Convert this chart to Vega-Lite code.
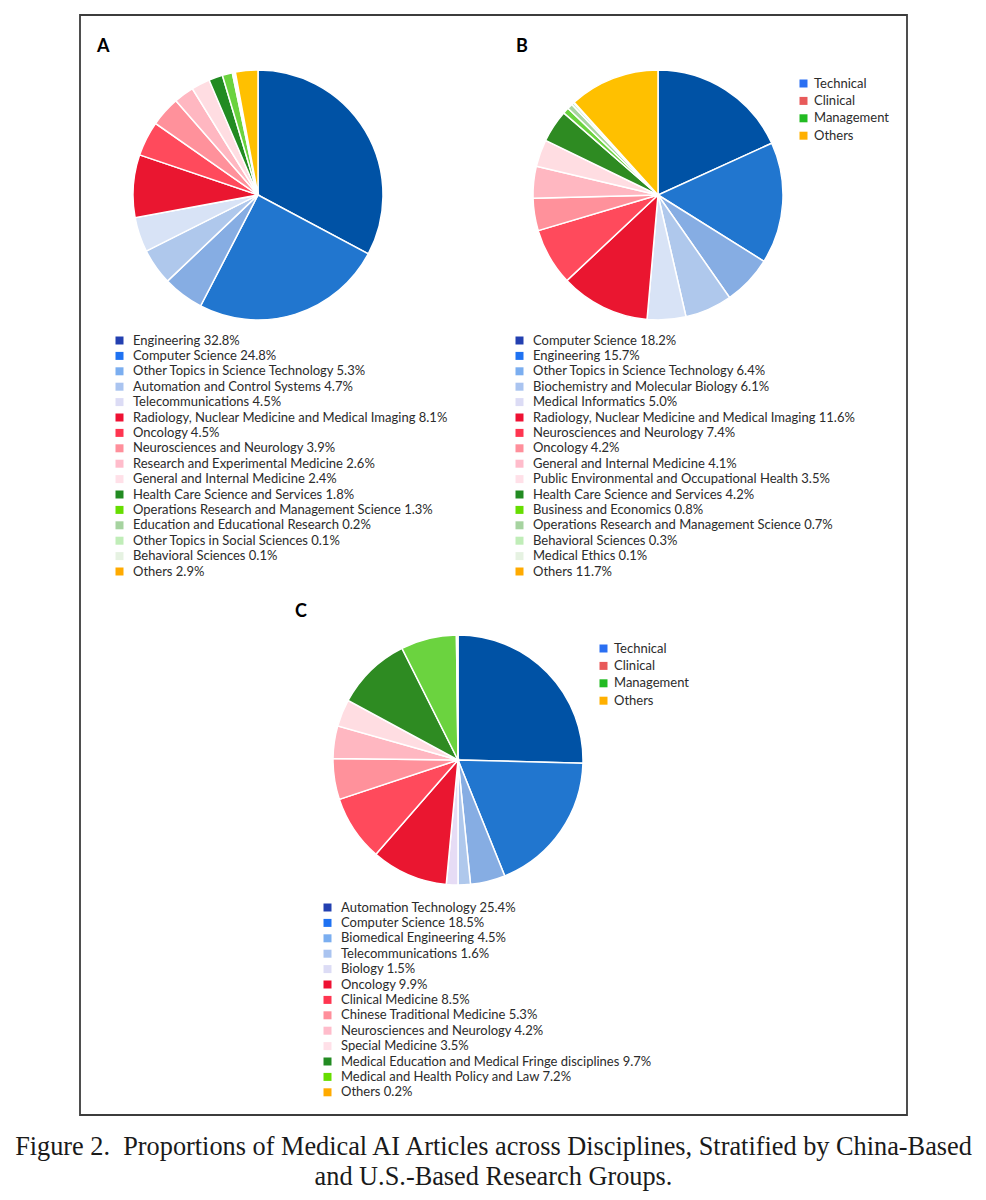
{
  "$schema": "https://vega.github.io/schema/vega-lite/v6.json",
  "background": "white",
  "padding": {"left": 13, "top": 15, "right": 5, "bottom": 5},
  "width": 827,
  "height": 1100,
  "config": {"view": {"stroke": "#3c3c3c", "strokeWidth": 1.8}, "font": "Lato"},
  "title": {
    "text": ["Figure 2.\u00a0 Proportions of Medical AI Articles across Disciplines, Stratified by China-Based", "and U.S.-Based Research Groups."],
    "orient": "bottom", "anchor": "middle", "frame": "group",
    "font": "Liberation Serif", "fontSize": 26.3, "fontWeight": "normal", "lineHeight": 30, "offset": 19, "color": "#1a1a1a"
  },
  "resolve": {"scale": {"color": "independent"}},
  "layer": [
    {
      "data": {"values": [
        {"discipline": "Engineering", "percent": 32.8},
        {"discipline": "Computer Science", "percent": 24.8},
        {"discipline": "Other Topics in Science Technology", "percent": 5.3},
        {"discipline": "Automation and Control Systems", "percent": 4.7},
        {"discipline": "Telecommunications", "percent": 4.5},
        {"discipline": "Radiology, Nuclear Medicine and Medical Imaging", "percent": 8.1},
        {"discipline": "Oncology", "percent": 4.5},
        {"discipline": "Neurosciences and Neurology", "percent": 3.9},
        {"discipline": "Research and Experimental Medicine", "percent": 2.6},
        {"discipline": "General and Internal Medicine", "percent": 2.4},
        {"discipline": "Health Care Science and Services", "percent": 1.8},
        {"discipline": "Operations Research and Management Science", "percent": 1.3},
        {"discipline": "Education and Educational Research", "percent": 0.2},
        {"discipline": "Other Topics in Social Sciences", "percent": 0.1},
        {"discipline": "Behavioral Sciences", "percent": 0.1},
        {"discipline": "Others", "percent": 2.9}
      ]},
      "transform": [
        {"calculate": "datum.discipline + ' ' + format(datum.percent, '.1f') + '%'", "as": "label"},
        {"window": [{"op": "row_number", "as": "idx"}]}
      ],
      "resolve": {"scale": {"color": "independent"}},
      "layer": [
        {
          "mark": {"type": "arc", "radius": 125, "stroke": "white", "strokeWidth": 1.5},
          "encoding": {
            "x": {"datum": "A", "type": "nominal", "scale": {"type": "point", "domain": ["A", "C", "B"], "range": [178, 578], "padding": 0}, "axis": null},
            "y": {"datum": "upper", "type": "nominal", "scale": {"type": "point", "domain": ["upper", "lower"], "range": [180, 745], "padding": 0}, "axis": null},
            "theta": {"field": "percent", "type": "quantitative", "stack": true},
            "order": {"field": "idx", "type": "quantitative"},
            "color": {"field": "label", "type": "nominal", "sort": null, "legend": null,
              "scale": {"range": ["#0052A5","#2176CF","#86ADE3","#AFC8EC","#D8E3F6","#EA1630","#FF4A5C","#FF919B","#FFB7C1","#FFDDE2","#228B22","#6BD33F","#A8D5A0","#C5EBC0","#E8F2E5","#FFC000"]}}
          }
        },
        {
          "mark": {"type": "point", "filled": true, "size": 0, "opacity": 1, "shape": "square"},
          "encoding": {
            "color": {"field": "label", "type": "nominal", "sort": null,
              "scale": {"range": ["#2340B0","#1F72F2","#7BAEF0","#AAC4F0","#DCDCF5","#EE1133","#FF3550","#FF8F9B","#FFBCCB","#FFE0E8","#228B22","#66DD00","#A6D3A0","#C0EDB8","#E6F2E2","#FFAA00"]},
              "legend": {"orient": "none", "legendX": 33, "legendY": 319, "title": null, "padding": 0, "symbolType": "square", "symbolSize": 64, "symbolStrokeWidth": 0, "symbolOpacity": 1, "labelFont": "Lato", "labelFontSize": 13, "labelColor": "#2b2b2b", "labelLimit": 600, "labelOffset": 7, "rowPadding": 1.4}}
          }
        }
      ]
    },
    {
      "data": {"values": [
        {"discipline": "Computer Science", "percent": 18.2},
        {"discipline": "Engineering", "percent": 15.7},
        {"discipline": "Other Topics in Science Technology", "percent": 6.4},
        {"discipline": "Biochemistry and Molecular Biology", "percent": 6.1},
        {"discipline": "Medical Informatics", "percent": 5.0},
        {"discipline": "Radiology, Nuclear Medicine and Medical Imaging", "percent": 11.6},
        {"discipline": "Neurosciences and Neurology", "percent": 7.4},
        {"discipline": "Oncology", "percent": 4.2},
        {"discipline": "General and Internal Medicine", "percent": 4.1},
        {"discipline": "Public Environmental and Occupational Health", "percent": 3.5},
        {"discipline": "Health Care Science and Services", "percent": 4.2},
        {"discipline": "Business and Economics", "percent": 0.8},
        {"discipline": "Operations Research and Management Science", "percent": 0.7},
        {"discipline": "Behavioral Sciences", "percent": 0.3},
        {"discipline": "Medical Ethics", "percent": 0.1},
        {"discipline": "Others", "percent": 11.7}
      ]},
      "transform": [
        {"calculate": "datum.discipline + ' ' + format(datum.percent, '.1f') + '%'", "as": "label"},
        {"window": [{"op": "row_number", "as": "idx"}]}
      ],
      "resolve": {"scale": {"color": "independent"}},
      "layer": [
        {
          "mark": {"type": "arc", "radius": 125, "stroke": "white", "strokeWidth": 1.5},
          "encoding": {
            "x": {"datum": "B", "type": "nominal", "axis": null},
            "y": {"datum": "upper", "type": "nominal", "axis": null},
            "theta": {"field": "percent", "type": "quantitative", "stack": true},
            "order": {"field": "idx", "type": "quantitative"},
            "color": {"field": "label", "type": "nominal", "sort": null, "legend": null,
              "scale": {"range": ["#0052A5","#2176CF","#86ADE3","#AFC8EC","#D8E3F6","#EA1630","#FF4A5C","#FF919B","#FFB7C1","#FFDDE2","#2E8B22","#6BD33F","#A8D5A0","#C5EBC0","#E8F2E5","#FFC000"]}}
          }
        },
        {
          "mark": {"type": "point", "filled": true, "size": 0, "opacity": 1, "shape": "square"},
          "encoding": {
            "color": {"field": "label", "type": "nominal", "sort": null,
              "scale": {"range": ["#2340B0","#1F72F2","#7BAEF0","#AAC4F0","#DCDCF5","#EE1133","#FF3550","#FF8F9B","#FFBCCB","#FFE0E8","#228B22","#66DD00","#A6D3A0","#C0EDB8","#E6F2E2","#FFAA00"]},
              "legend": {"orient": "none", "legendX": 433, "legendY": 319, "title": null, "padding": 0, "symbolType": "square", "symbolSize": 64, "symbolStrokeWidth": 0, "symbolOpacity": 1, "labelFont": "Lato", "labelFontSize": 13, "labelColor": "#2b2b2b", "labelLimit": 600, "labelOffset": 7, "rowPadding": 1.4}}
          }
        }
      ]
    },
    {
      "data": {"values": [
        {"discipline": "Automation Technology", "percent": 25.4},
        {"discipline": "Computer Science", "percent": 18.5},
        {"discipline": "Biomedical Engineering", "percent": 4.5},
        {"discipline": "Telecommunications", "percent": 1.6},
        {"discipline": "Biology", "percent": 1.5},
        {"discipline": "Oncology", "percent": 9.9},
        {"discipline": "Clinical Medicine", "percent": 8.5},
        {"discipline": "Chinese Traditional Medicine", "percent": 5.3},
        {"discipline": "Neurosciences and Neurology", "percent": 4.2},
        {"discipline": "Special Medicine", "percent": 3.5},
        {"discipline": "Medical Education and Medical Fringe disciplines", "percent": 9.7},
        {"discipline": "Medical and Health Policy and Law", "percent": 7.2},
        {"discipline": "Others", "percent": 0.2}
      ]},
      "transform": [
        {"calculate": "datum.discipline + ' ' + format(datum.percent, '.1f') + '%'", "as": "label"},
        {"window": [{"op": "row_number", "as": "idx"}]}
      ],
      "resolve": {"scale": {"color": "independent"}},
      "layer": [
        {
          "mark": {"type": "arc", "radius": 125, "stroke": "white", "strokeWidth": 1.5},
          "encoding": {
            "x": {"datum": "C", "type": "nominal", "axis": null},
            "y": {"datum": "lower", "type": "nominal", "axis": null},
            "theta": {"field": "percent", "type": "quantitative", "stack": true},
            "order": {"field": "idx", "type": "quantitative"},
            "color": {"field": "label", "type": "nominal", "sort": null, "legend": null,
              "scale": {"range": ["#0052A5","#2176CF","#86ADE3","#AFC8EC","#E6DCF5","#EA1630","#FF4A5C","#FF919B","#FFB7C1","#FFDDE2","#2E8B22","#6BD33F","#FFC000"]}}
          }
        },
        {
          "mark": {"type": "point", "filled": true, "size": 0, "opacity": 1, "shape": "square"},
          "encoding": {
            "color": {"field": "label", "type": "nominal", "sort": null,
              "scale": {"range": ["#2340B0","#1F72F2","#7BAEF0","#AAC4F0","#DCDCF5","#EE1133","#FF3550","#FF8F9B","#FFBCCB","#FFE0E8","#228B22","#66DD00","#FFAA00"]},
              "legend": {"orient": "none", "legendX": 241, "legendY": 886, "title": null, "padding": 0, "symbolType": "square", "symbolSize": 64, "symbolStrokeWidth": 0, "symbolOpacity": 1, "labelFont": "Lato", "labelFontSize": 13, "labelColor": "#2b2b2b", "labelLimit": 600, "labelOffset": 7, "rowPadding": 1.4}}
          }
        }
      ]
    },
    {
      "data": {"values": [
        {"group": "Technical"}, {"group": "Clinical"}, {"group": "Management"}, {"group": "Others"}
      ]},
      "resolve": {"scale": {"color": "independent"}},
      "layer": [
        {
          "mark": {"type": "point", "filled": true, "size": 0, "opacity": 1, "shape": "square"},
          "encoding": {
            "color": {"field": "group", "type": "nominal", "sort": null,
              "scale": {"range": ["#2A6FF2","#E85A5A","#22BB22","#FFB000"]},
              "legend": {"orient": "none", "legendX": 717, "legendY": 62, "title": null, "padding": 0, "symbolType": "square", "symbolSize": 64, "symbolStrokeWidth": 0, "symbolOpacity": 1, "labelFont": "Lato", "labelFontSize": 13, "labelColor": "#2b2b2b", "labelLimit": 300, "labelOffset": 4, "rowPadding": 3.4}}
          }
        },
        {
          "mark": {"type": "point", "filled": true, "size": 0, "opacity": 1, "shape": "square"},
          "encoding": {
            "color": {"field": "group", "type": "nominal", "sort": null,
              "scale": {"range": ["#2A6FF2","#E85A5A","#22BB22","#FFB000"]},
              "legend": {"orient": "none", "legendX": 517, "legendY": 627, "title": null, "padding": 0, "symbolType": "square", "symbolSize": 64, "symbolStrokeWidth": 0, "symbolOpacity": 1, "labelFont": "Lato", "labelFontSize": 13, "labelColor": "#2b2b2b", "labelLimit": 300, "labelOffset": 4, "rowPadding": 3.4}}
          }
        }
      ]
    },
    {
      "data": {"values": [{"panel": "A"}]},
      "mark": {"type": "text", "text": "A", "font": "Lato", "fontSize": 18, "fontWeight": "bold", "color": "#000000", "align": "left", "baseline": "alphabetic", "dx": -161, "dy": -143},
      "encoding": {
        "x": {"field": "panel", "type": "nominal", "axis": null},
        "y": {"datum": "upper", "type": "nominal", "axis": null}
      }
    },
    {
      "data": {"values": [{"panel": "B"}]},
      "mark": {"type": "text", "text": "B", "font": "Lato", "fontSize": 18, "fontWeight": "bold", "color": "#000000", "align": "left", "baseline": "alphabetic", "dx": -142, "dy": -143},
      "encoding": {
        "x": {"field": "panel", "type": "nominal", "axis": null},
        "y": {"datum": "upper", "type": "nominal", "axis": null}
      }
    },
    {
      "data": {"values": [{"panel": "C"}]},
      "mark": {"type": "text", "text": "C", "font": "Lato", "fontSize": 18, "fontWeight": "bold", "color": "#000000", "align": "left", "baseline": "alphabetic", "dx": -163, "dy": -143},
      "encoding": {
        "x": {"field": "panel", "type": "nominal", "axis": null},
        "y": {"datum": "lower", "type": "nominal", "axis": null}
      }
    }
  ]
}
